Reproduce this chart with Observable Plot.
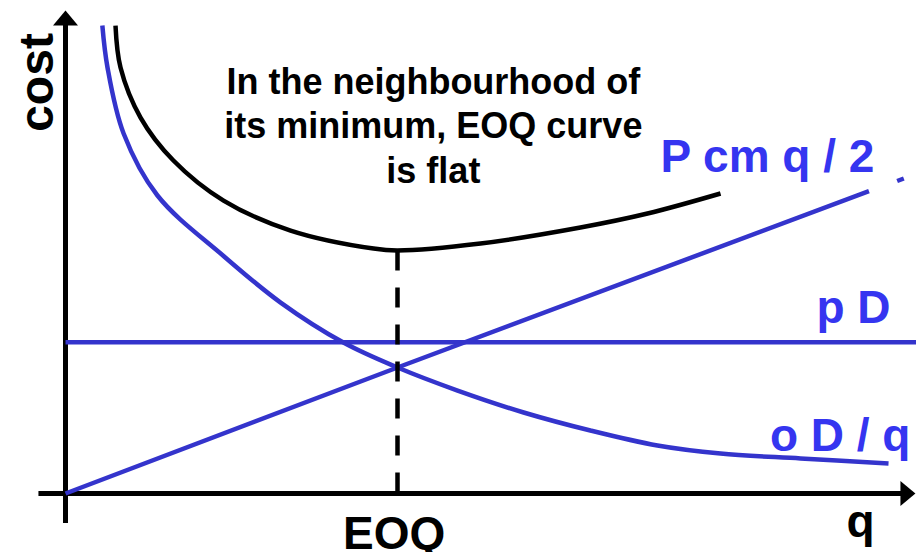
<!DOCTYPE html>
<html><head><meta charset="utf-8">
<script src="https://cdn.jsdelivr.net/npm/d3@7"></script>
<script src="https://cdn.jsdelivr.net/npm/@observablehq/plot@0.6"></script>
<style>html,body{margin:0;padding:0;background:#fff}svg{display:block}</style>
</head><body><div id="chart"></div>
<script>
// ---- data (q units: EOQ = 100; cost units: holding cost at EOQ = 100) ----
const eoq = 100;
const minTotalCost = 192.9;
const purchaseCost = 120;                 // p D (flat)

const holdingQ    = [0, 100, 242, NaN, 250.5, 252.5];   // P cm q / 2
const holdingCost = [0, 100, 240, NaN, 248, 250];

const orderQ    = [11.1, 12.65, 17.5, 27.7, 47.6, 64.8, 83.7, 100, 118.1, 138, 158.1, 178.3, 197.3, 221.4, 247.9]; // o D / q
const orderCost = [371.4, 338.1, 285.7, 236.5, 188.5, 151.5, 119.8, 100, 81.7, 64.3, 50, 38.1, 31.7, 27.8, 23.8];

const totalQ    = [15.06, 16.57, 22.6, 32.5, 47.6, 67.8, 92.8, 100, 125, 155.1, 175.3, 197.3];  // EOQ curve
const totalCost = [371.4, 338.1, 298.4, 264.3, 232.5, 208.7, 194.4, 192.9, 198.4, 211.1, 222.2, 238.1];

const pdRange = [0, 256.3];
const xAxisRange = [-8, 252.1];
const yAxisRange = [-23.8, 371.4];
const xArrowTip = 256;
const yArrowTip = 383.3;

const lineLabels = ["P cm q / 2", "p D", "o D / q"];
const labelQ     = [179.2, 248.5, 254.5];
const labelCost  = [254.8, 135.7, 34.1];
const labelAnchor = ["start", "end", "end"];

const note = "In the neighbourhood of\nits minimum, EOQ curve\nis flat";
const noteQ = 110.8, noteCost = 246.8;
const xTitle = "q", yTitle = "cost", eoqLabel = "EOQ";

// ---- build tables ----
const zip = (xs, ys) => xs.map((x, i) => ({q: x, c: ys[i]}));
const holding = zip(holdingQ, holdingCost);
const ordering = zip(orderQ, orderCost);
const total = zip(totalQ, totalCost);
const pd = pdRange.map(q => ({q, c: purchaseCost}));
const labels = lineLabels.map((t, i) => ({t, q: labelQ[i], c: labelCost[i], a: labelAnchor[i]}));

const arrowSymbol = {
  draw(ctx) { ctx.moveTo(0, 0); ctx.lineTo(-12.5, 15); ctx.lineTo(12.5, 15); ctx.closePath(); }
};

const lineBlue = "#3434cc";
const textBlue = "#3535f0";
const font = "Liberation Sans, Arial, Helvetica, sans-serif";

const chart = Plot.plot({
  width: 916, height: 552,
  marginTop: 0, marginRight: 0, marginBottom: 0, marginLeft: 0,
  x: {domain: [-65 / 3.32, 851 / 3.32], axis: null},
  y: {domain: [-59 / 1.26, 493 / 1.26], axis: null},
  style: {fontFamily: font, background: "#fff"},
  marks: [
    // axes
    Plot.ruleY([0], {x1: xAxisRange[0], x2: xAxisRange[1], stroke: "black", strokeWidth: 5}),
    Plot.ruleX([0], {y1: yAxisRange[0], y2: yAxisRange[1], stroke: "black", strokeWidth: 5}),
    Plot.dot([{q: 0, c: yArrowTip}], {x: "q", y: "c", symbol: arrowSymbol, fill: "black", stroke: "none"}),
    Plot.dot([{q: xArrowTip, c: 0}], {x: "q", y: "c", symbol: arrowSymbol, rotate: 90, fill: "black", stroke: "none"}),
    // blue cost components
    Plot.line(pd, {x: "q", y: "c", stroke: lineBlue, strokeWidth: 4.5, strokeLinecap: "butt"}),
    Plot.line(holding, {x: "q", y: "c", stroke: lineBlue, strokeWidth: 4.5, strokeLinecap: "butt"}),
    Plot.line(ordering, {x: "q", y: "c", stroke: lineBlue, strokeWidth: 4.5, strokeLinecap: "butt", curve: "catmull-rom"}),
    // EOQ dashed drop line
    Plot.line([{q: eoq, c: minTotalCost}, {q: eoq, c: 0}], {x: "q", y: "c", stroke: "black", strokeWidth: 4.5, strokeDasharray: "20,17", strokeLinecap: "butt"}),
    // total cost curve
    Plot.line(total, {x: "q", y: "c", stroke: "black", strokeWidth: 4.5, strokeLinecap: "butt", curve: "catmull-rom"}),
    // texts
    Plot.text(labels.filter(d => d.a === "start"), {x: "q", y: "c", text: "t", textAnchor: "start", lineAnchor: "bottom", fill: textBlue, fontSize: 46, fontWeight: "bold"}),
    Plot.text(labels.filter(d => d.a === "end"), {x: "q", y: "c", text: "t", textAnchor: "end", lineAnchor: "bottom", fill: textBlue, fontSize: 46, fontWeight: "bold"}),
    Plot.text([note], {x: noteQ, y: noteCost, text: d => d, textAnchor: "middle", lineAnchor: "bottom", lineHeight: 1.236, fill: "black", fontSize: 36, fontWeight: "bold"}),
    Plot.text([eoqLabel], {x: eoq - 1, y: -43.7, text: d => d, textAnchor: "middle", lineAnchor: "bottom", fill: "black", fontSize: 46, fontWeight: "bold"}),
    Plot.text([xTitle], {x: 239.5, y: -34.9, text: d => d, textAnchor: "middle", lineAnchor: "bottom", fill: "black", fontSize: 46, fontWeight: "bold"}),
    Plot.text([yTitle], {x: -3.9, y: 326.2, text: d => d, rotate: -90, textAnchor: "middle", lineAnchor: "bottom", fill: "black", fontSize: 48, fontWeight: "bold"})
  ]
});
document.getElementById("chart").append(chart);
</script>
</body></html>
